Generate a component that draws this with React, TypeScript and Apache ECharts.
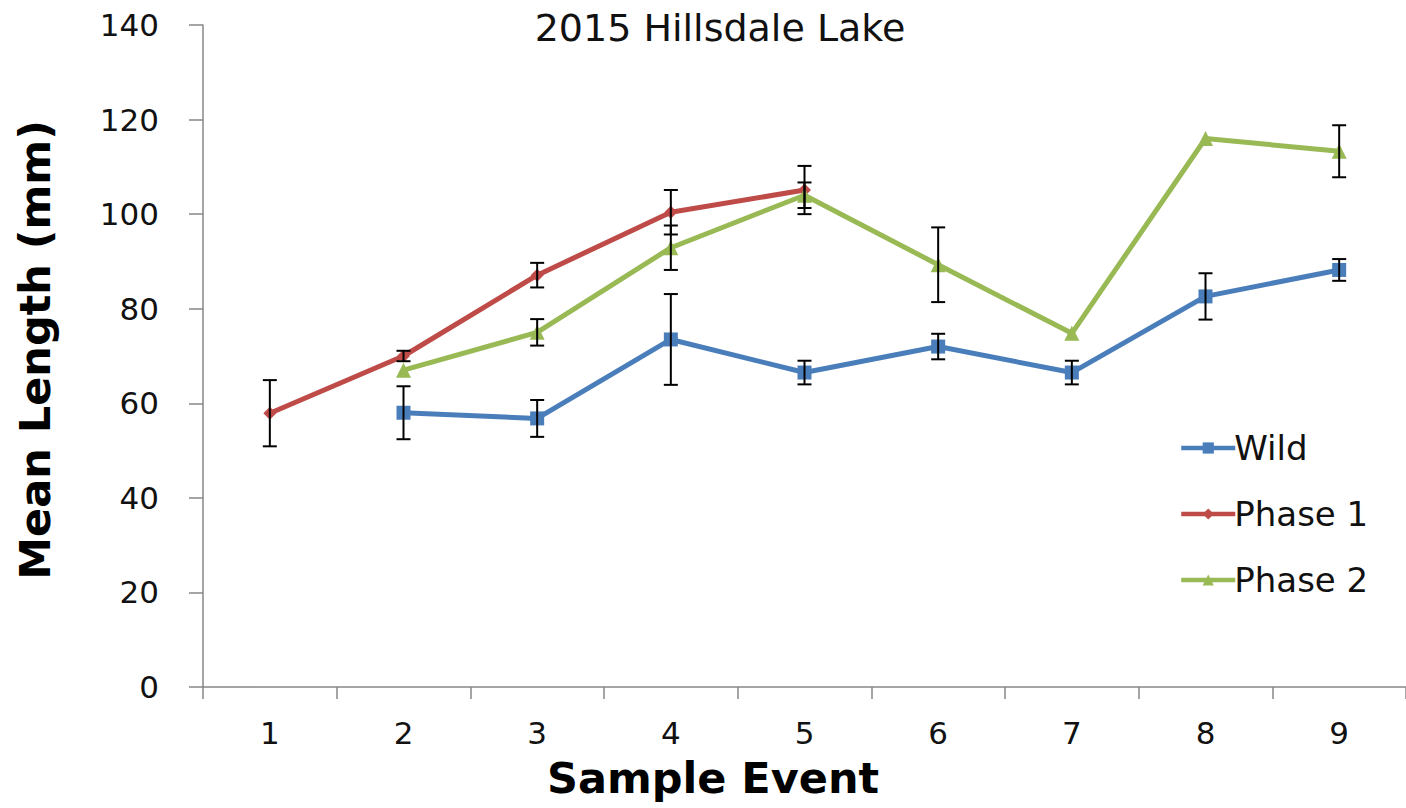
import React, { useEffect, useRef } from "react";
import * as echarts from "echarts";

const categories = ["1", "2", "3", "4", "5", "6", "7", "8", "9"];
const yTicks = [0, 20, 40, 60, 80, 100, 120, 140];

const wild = [null, 58, 56.8, 73.5, 66.5, 72, 66.5, 82.6, 88.2];
const wildErr = [null, 5.6, 3.9, 9.6, 2.5, 2.7, 2.5, 4.9, 2.3];
const phase1 = [57.9, 70, 87.1, 100.4, 105.1, null, null, null, null];
const phase1Err = [7, 1.1, 2.6, 4.7, 5.1, null, null, null, null];
const phase2 = [null, 67, 75, 92.9, 104, 89.3, 74.8, 116, 113.3];
const phase2Err = [null, null, 2.8, 4.7, 2.7, 7.9, null, null, 5.5];

const FONT = "'DejaVu Sans', sans-serif";

function errData(vals: (number | null)[], errs: (number | null)[]) {
  const out: number[][] = [];
  vals.forEach((v, i) => {
    const e = errs[i];
    if (v != null && e != null) out.push([i, v - e, v + e]);
  });
  return out;
}

function errSeries(vals: (number | null)[], errs: (number | null)[]) {
  return {
    type: "custom",
    z: 5,
    silent: true,
    data: errData(vals, errs),
    encode: { x: 0, y: [1, 2] },
    renderItem: (params: any, api: any) => {
      const x = api.value(0);
      const top = api.coord([x, api.value(2)]);
      const bot = api.coord([x, api.value(1)]);
      const hw = 7;
      const st = { stroke: "#000", lineWidth: 2 };
      return {
        type: "group",
        children: [
          { type: "line", shape: { x1: top[0], y1: top[1], x2: bot[0], y2: bot[1] }, style: st },
          { type: "line", shape: { x1: top[0] - hw, y1: top[1], x2: top[0] + hw, y2: top[1] }, style: st },
          { type: "line", shape: { x1: bot[0] - hw, y1: bot[1], x2: bot[0] + hw, y2: bot[1] }, style: st },
        ],
      };
    },
  };
}

export default function App() {
  const ref = useRef<HTMLDivElement>(null);
  useEffect(() => {
    const chart = echarts.init(ref.current!, null, { renderer: "svg" });
    const axisColor = "#878787";
    chart.setOption({
      animation: false,
      backgroundColor: "#fff",
      grid: { left: 203, top: 25, width: 1205, height: 662, containLabel: false },
      xAxis: {
        type: "category",
        data: categories,
        boundaryGap: true,
        axisLine: { show: true, lineStyle: { color: axisColor, width: 1.5 } },
        axisTick: { show: true, inside: false, length: 12, lineStyle: { color: axisColor, width: 1.5 } },
        axisLabel: { fontFamily: FONT, fontSize: 31, color: "#111", margin: 30 },
        splitLine: { show: false },
      },
      yAxis: {
        type: "value",
        min: yTicks[0],
        max: yTicks[yTicks.length - 1],
        interval: 20,
        axisLine: { show: true, lineStyle: { color: axisColor, width: 1.5 } },
        axisTick: { show: true, inside: false, length: 14, lineStyle: { color: axisColor, width: 1.5 } },
        axisLabel: { fontFamily: FONT, fontSize: 31, color: "#111", margin: 44 },
        splitLine: { show: false },
      },
      legend: {
        orient: "vertical",
        left: 1174,
        top: 424,
        itemWidth: 54,
        itemHeight: 14,
        itemGap: 28,
        data: ["Wild", "Phase 1", "Phase 2"],
        lineStyle: { width: 4.5 },
        textStyle: { fontFamily: FONT, fontSize: 34, color: "#111", lineHeight: 38, padding: [0, 0, 0, -6] },
      },
      graphic: [
        {
          type: "text",
          x: 720,
          y: 28,
          style: { text: "2015 Hillsdale Lake", font: `38px ${FONT}`, fill: "#111", textAlign: "center", textVerticalAlign: "middle" },
        },
        {
          type: "text",
          x: 713,
          y: 778,
          style: { text: "Sample Event", font: `bold 43px ${FONT}`, fill: "#000", textAlign: "center", textVerticalAlign: "middle" },
        },
        {
          type: "text",
          x: 35,
          y: 350,
          rotation: Math.PI / 2,
          style: { text: "Mean Length (mm)", font: `bold 43px ${FONT}`, fill: "#000", textAlign: "center", textVerticalAlign: "middle" },
        },
      ],
      series: [
        {
          name: "Wild",
          type: "line",
          data: wild,
          symbol: "rect",
          symbolSize: 14,
          lineStyle: { color: "#4A7EBB", width: 5 },
          itemStyle: { color: "#4A7EBB" },
          z: 3,
        },
        {
          name: "Phase 1",
          type: "line",
          data: phase1,
          symbol: "diamond",
          symbolSize: 13,
          lineStyle: { color: "#BE4B48", width: 5 },
          itemStyle: { color: "#BE4B48" },
          z: 3,
        },
        {
          name: "Phase 2",
          type: "line",
          data: phase2,
          symbol: "triangle",
          symbolSize: 15,
          lineStyle: { color: "#98B954", width: 5 },
          itemStyle: { color: "#98B954" },
          z: 3,
        },
        errSeries(wild, wildErr),
        errSeries(phase1, phase1Err),
        errSeries(phase2, phase2Err),
      ],
    });
    return () => chart.dispose();
  }, []);
  return (
    <div
      ref={ref}
      style={{ position: "absolute", left: 0, top: 0, width: 1406, height: 808, background: "#fff" }}
    />
  );
}
